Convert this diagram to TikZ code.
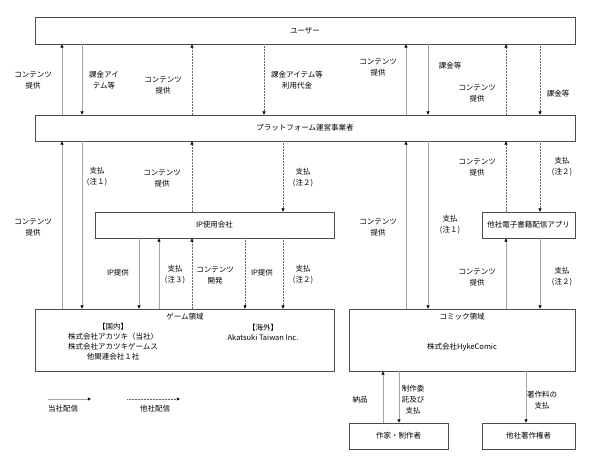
\documentclass[tikz,border=0pt]{standalone}
\usepackage{fontspec}
\setmainfont{Noto Sans CJK JP}
\usetikzlibrary{arrows.meta}
\begin{document}
\begin{tikzpicture}[x=1pt,y=-1pt,
 box/.style={draw=black!70, line width=0.8pt, fill=white, inner sep=0pt, font=\fontsize{7.5}{11}\selectfont},
 lbl/.style={align=center, inner sep=0pt, font=\fontsize{7.5}{11}\selectfont},
 inlbl/.style={align=center, inner sep=0pt, font=\fontsize{7.5}{10}\selectfont},
 own/.style={draw=black!35, line width=0.9pt, -{Triangle[length=3.2pt,width=3pt,color=black]}},
 oth/.style={draw=black!60, line width=0.5pt, densely dotted, -{Triangle[length=3.2pt,width=3pt,color=black]}},
]
\useasboundingbox (0,0) rectangle (595,459);
% boxes
\node[box, minimum width=540pt, minimum height=27pt] (user) at (305,30.5) {ユーザー};
\node[box, minimum width=540pt, minimum height=26pt] (plat) at (305,128) {プラットフォーム運営事業者};
\node[box, minimum width=239pt, minimum height=26pt] (ip) at (214.5,225) {IP使用会社};
\node[box, minimum width=93pt, minimum height=26pt] (ebook) at (528.5,225) {他社電子書籍配信アプリ};
\node[box, minimum width=299pt, minimum height=62pt] (game) at (184.5,340) {};
\node[box, minimum width=226pt, minimum height=62pt] (comic) at (462,340) {};
\node[box, minimum width=99pt, minimum height=26pt] (writer) at (398.5,436) {作家・制作者};
\node[box, minimum width=93pt, minimum height=26pt] (holder) at (528.5,436) {他社著作権者};
% box inner texts
\node[inlbl] (gtitle) at (185,317) {ゲーム領域};
\node[inlbl] (gdom) at (113,342) {【国内】\\株式会社アカツキ（当社）\\株式会社アカツキゲームス\\他関連会社１社};
\node[inlbl] (gfor) at (263,332) {【海外】\\Akatsuki Taiwan Inc.};
\node[inlbl] (ctitle) at (462,317) {コミック領域};
\node[inlbl] (cname) at (462,347) {株式会社HykeComic};
% x positions
\coordinate (xa) at (62,0);
\coordinate (xb) at (82,0);
\coordinate (xc) at (192,0);
\coordinate (xd) at (264,0);
\coordinate (xe) at (406,0);
\coordinate (xf) at (428,0);
\coordinate (xg) at (506,0);
\coordinate (xh) at (540,0);
\coordinate (xi) at (283,0);
\coordinate (xj) at (139,0);
\coordinate (xk) at (159,0);
\coordinate (xl) at (245,0);
\coordinate (xm) at (383,0);
\coordinate (xn) at (399,0);
\coordinate (xo) at (526,0);
% user <-> platform
\draw[own] (plat.north -| xa) -- (user.south -| xa);
\draw[own] (user.south -| xb) -- (plat.north -| xb);
\draw[oth] (plat.north -| xc) -- (user.south -| xc);
\draw[oth] (user.south -| xd) -- (plat.north -| xd);
\draw[own] (plat.north -| xe) -- (user.south -| xe);
\draw[own] (user.south -| xf) -- (plat.north -| xf);
\draw[oth] (plat.north -| xg) -- (user.south -| xg);
\draw[oth] (user.south -| xh) -- (plat.north -| xh);
% platform <-> game / ip
\draw[own] (game.north -| xa) -- (plat.south -| xa);
\draw[own] (plat.south -| xb) -- (game.north -| xb);
\draw[oth] (ip.north -| xc) -- (plat.south -| xc);
\draw[oth] (plat.south -| xi) -- (ip.north -| xi);
% ip <-> game
\draw[own] (ip.south -| xj) -- (game.north -| xj);
\draw[own] (game.north -| xk) -- (ip.south -| xk);
\draw[oth] (game.north -| xc) -- (ip.south -| xc);
\draw[oth] (ip.south -| xl) -- (game.north -| xl);
\draw[oth] (ip.south -| xi) -- (game.north -| xi);
% comic side
\draw[own] (comic.north -| xe) -- (plat.south -| xe);
\draw[own] (plat.south -| xf) -- (comic.north -| xf);
\draw[oth] (ebook.north -| xg) -- (plat.south -| xg);
\draw[oth] (plat.south -| xh) -- (ebook.north -| xh);
\draw[own] (comic.north -| xg) -- (ebook.south -| xg);
\draw[own] (ebook.south -| xh) -- (comic.north -| xh);
% below comic
\draw[own] (writer.north -| xm) -- (comic.south -| xm);
\draw[own] (comic.south -| xn) -- (writer.north -| xn);
\draw[own] (comic.south -| xo) -- (holder.north -| xo);
% labels
\node[lbl] (t1) at (33,80) {コンテンツ\\提供};
\node[lbl] (t2) at (104,80) {課金アイ\\テム等};
\node[lbl] (t3) at (163,85) {コンテンツ\\提供};
\node[lbl] (t4) at (297,80) {課金アイテム等\\利用代金};
\node[lbl] (t5) at (378,67) {コンテンツ\\提供};
\node[lbl] (t6) at (450,66) {課金等};
\node[lbl] (t7) at (477,93) {コンテンツ\\提供};
\node[lbl] (t8) at (558,94) {課金等};
\node[lbl] (t9) at (33,227) {コンテンツ\\提供};
\node[lbl] (t10) at (97,177) {支払\\(注１)};
\node[lbl] (t11) at (162,178) {コンテンツ\\提供};
\node[lbl] (t12) at (303,178) {支払\\(注２)};
\node[lbl] (t13) at (118,273) {IP提供};
\node[lbl] (t14) at (175,275) {支払\\(注３)};
\node[lbl] (t15) at (215,275) {コンテンツ\\開発};
\node[lbl] (t16) at (262,273) {IP提供};
\node[lbl] (t17) at (303,275) {支払\\(注２)};
\node[lbl] (t18) at (378,227) {コンテンツ\\提供};
\node[lbl] (t19) at (450,225) {支払\\(注１)};
\node[lbl] (t20) at (477,167) {コンテンツ\\提供};
\node[lbl] (t21) at (562,167) {支払\\(注２)};
\node[lbl] (t22) at (477,277) {コンテンツ\\提供};
\node[lbl] (t23) at (562,277) {支払\\(注２)};
\node[lbl] (t24) at (360,400) {納品};
\node[lbl] (t25) at (413,400) {制作委\\託及び\\支払};
\node[lbl] (t26) at (542,400) {著作料の\\支払};
% legend
\coordinate (l1a) at (48,399);
\coordinate (l1b) at (91,399);
\coordinate (l2a) at (127,399);
\coordinate (l2b) at (180,399);
\draw[own] (l1a) -- (l1b);
\draw[oth] (l2a) -- (l2b);
\node[lbl] (t27) at (63,409) {当社配信};
\node[lbl] (t28) at (155,409) {他社配信};
\end{tikzpicture}
\end{document}
